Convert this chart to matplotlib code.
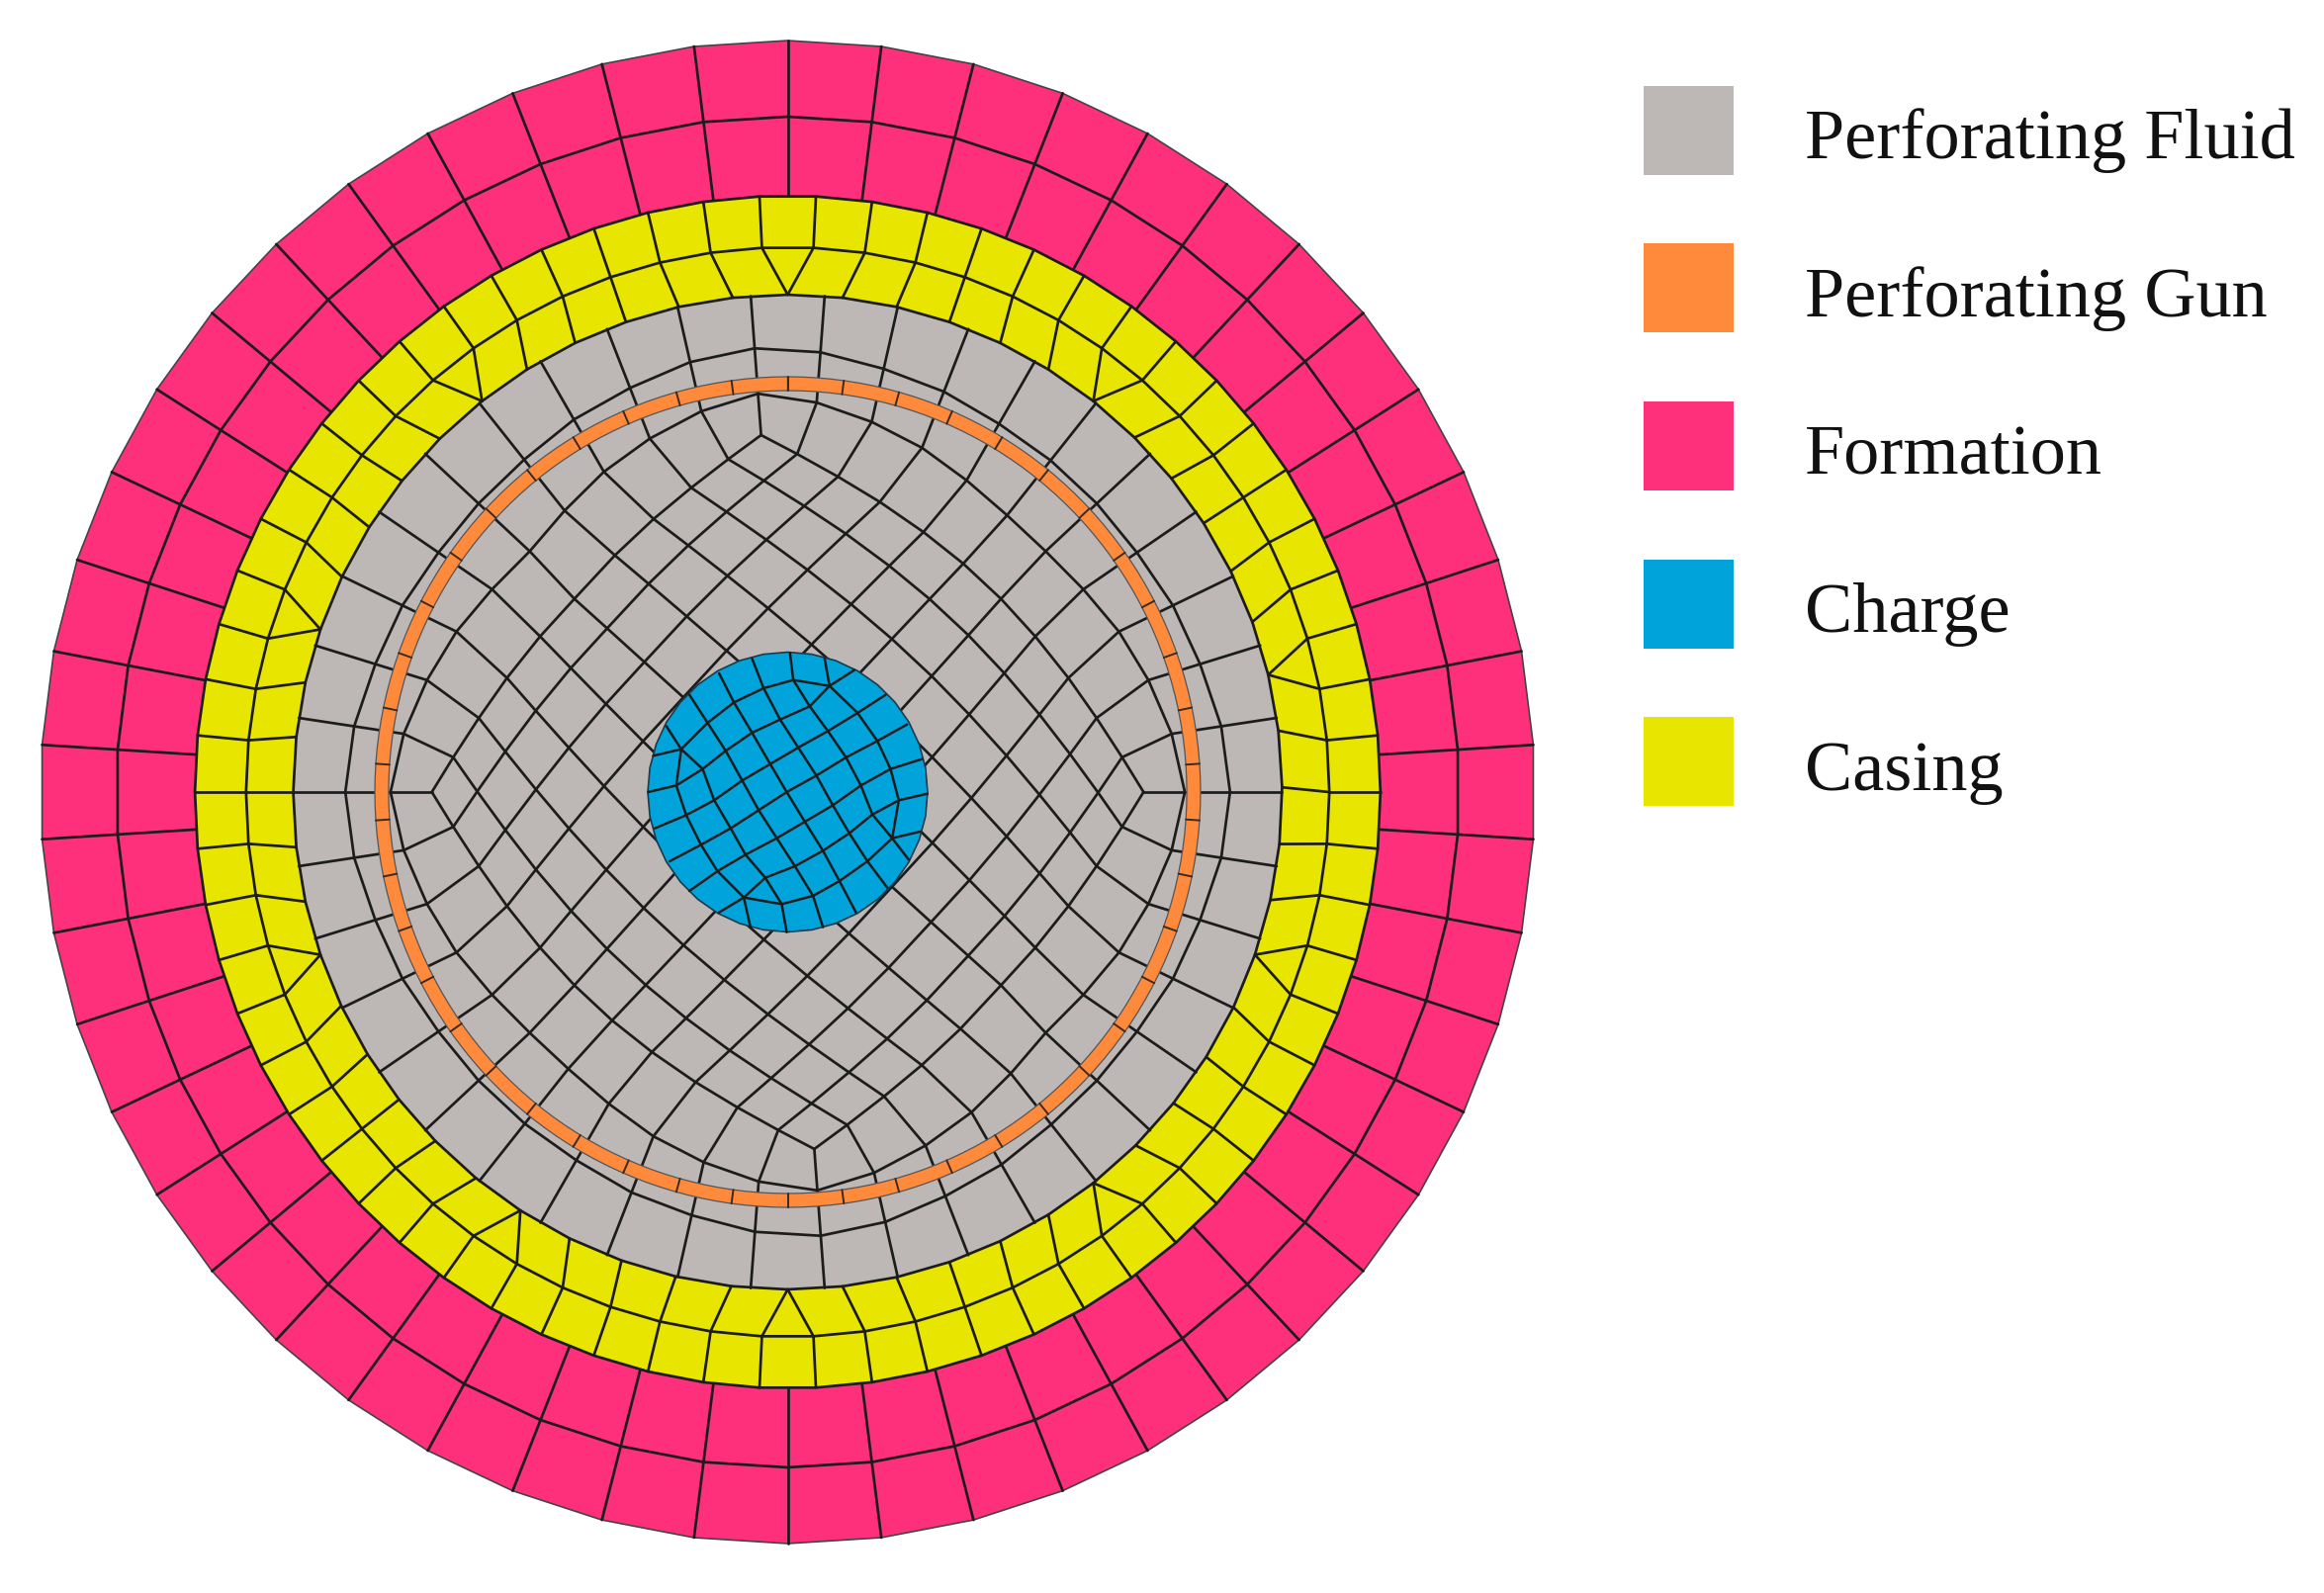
import numpy as np
import matplotlib
matplotlib.use("Agg")
import matplotlib.pyplot as plt
from matplotlib.patches import Polygon, Rectangle

# legend
labels = ["Perforating Fluid", "Perforating Gun", "Formation", "Charge", "Casing"]
FLUID, GUN, FORMATION, CHARGE, CASING = "#BDB8B6", "#FF8A3C", "#FE2F7B", "#00A3DA", "#E8E600"
colors = [FLUID, GUN, FORMATION, CHARGE, CASING]

# mesh radii (px)
formation_r = [760, 683, 603]
casing_r = [603, 551, 503]
gun_r = [420, 406]
charge_r = 141.5

# element counts round each ring
n_formation = 50
n_casing = 66
n_fluid = 42
n_gun = 46

# casing: first of each pair of mid nodes that merge into one inner node
wedge_first = [6, 13, 19, 25, 32, 38, 45, 52, 58, 65]

# fluid mesh: block corners as spoke numbers, and ring radii by spokes away from a corner
corner_spokes = [0, 11, 21, 32, 42]
ring_b = [450, 446, 439, 435, 430, 429]
ring_a = [404, 395, 384, 374, 364, 358]
block_r = [362, 342, 323, 308, 297, 292]
block_ang = [0, 5.9, 13.4, 22, 32, 42]

# charge mesh polylines, node positions from centre in 1/3 px (x right, y down)
charge_lines = [
    [(-408, -110), (-323, -130), (-243, -210), (-163, -272), (-73, -315), (17, -340), (127, -322)],
    [(202, -370), (127, -322), (67, -260), (-23, -220), (-108, -180), (-188, -125), (-258, -70), (-338, -20), (-423, 0)],
    [(297, -295), (212, -240), (122, -185), (32, -135), (-53, -85), (-138, -35), (-223, 25), (-308, 70), (-403, 110)],
    [(362, -205), (272, -155), (177, -105), (87, -50), (-3, 0), (-88, 55), (-173, 110), (-263, 160), (-358, 210)],
    [(407, -100), (312, -70), (222, -20), (137, 40), (52, 90), (-33, 140), (-128, 190), (-213, 240), (-298, 300)],
    [(424, 5), (337, 25), (257, 68), (187, 125), (107, 178), (22, 225), (-68, 260), (-133, 320), (-208, 365)],
    [(402, 120), (317, 140), (242, 210), (157, 270), (77, 315), (-18, 340), (-133, 320)],
    [(-323, -130), (-338, -20), (-308, 70), (-263, 160), (-213, 240), (-133, 320), (-113, 410)],
    [(-368, -200), (-323, -130), (-258, -70), (-223, 25), (-173, 110), (-128, 190), (-68, 260), (-18, 340), (-3, 425)],
    [(-298, -295), (-243, -210), (-188, -125), (-138, -35), (-88, 55), (-33, 140), (22, 225), (77, 315), (107, 410)],
    [(-208, -360), (-163, -272), (-108, -180), (-53, -85), (-3, 0), (52, 90), (107, 178), (157, 270), (207, 365)],
    [(-108, -405), (-73, -315), (-23, -220), (32, -135), (87, -50), (137, 40), (187, 125), (242, 210), (302, 290)],
    [(7, -422), (17, -340), (67, -260), (122, -185), (177, -105), (222, -20), (257, 68), (317, 140), (367, 205)],
    [(112, -405), (127, -322), (212, -240), (272, -155), (312, -70), (337, 25), (317, 140)],
]

CX, CY = 796.5, 801
X_SCALE = 0.994
LW = 1.95
INK = "#1c1c1c"


def pt(r, deg):
    # degrees clockwise from north, pixel axes
    a = np.radians(deg)
    return np.array([CX + X_SCALE * r * np.sin(a), CY - r * np.cos(a)])


def ring(r, angs):
    return np.array([pt(r, a) for a in angs])


def line(ax, pts, z=3, lw=LW, c=INK):
    pts = np.asarray(pts)
    ax.plot(pts[:, 0], pts[:, 1], color=c, lw=lw, zorder=z, solid_capstyle="round", solid_joinstyle="round")


fig = plt.figure(figsize=(23.5, 16.11), dpi=100)
ax = fig.add_axes([0, 0, 1, 1])
ax.set_xlim(0, 2350)
ax.set_ylim(1611, 0)
ax.axis("off")

# formation
form_ang = np.arange(n_formation) * 360 / n_formation
ax.add_patch(Polygon(ring(formation_r[0], form_ang), fc=FORMATION, ec="#444444", lw=1.2, zorder=1))
line(ax, ring(formation_r[1], np.r_[form_ang, 360]))
for a in form_ang:
    line(ax, [pt(formation_r[0], a), pt(formation_r[2], a)])

# casing
mid_ang = (np.arange(n_casing) + 0.5) * 360 / n_casing
wedges = sorted(wedge_first)
inner_spokes = []   # (mid node, inner angle)
for i, w in enumerate(wedges):
    nxt = wedges[(i + 1) % len(wedges)] + (n_casing if i == len(wedges) - 1 else 0)
    c0 = (w + 1) * 360 / n_casing
    c1 = (nxt + 1) * 360 / n_casing
    free = list(range(w + 2, nxt))
    inner_spokes.append((w, c0))
    inner_spokes.append((w + 1, c0))
    for m, node in enumerate(free):
        inner_spokes.append((node, c0 + (c1 - c0) * (m + 1) / (len(free) + 1)))
inner_ang = sorted({round(a, 4) for _, a in inner_spokes})

ax.add_patch(Polygon(ring(casing_r[0], mid_ang), fc=CASING, ec=INK, lw=LW, zorder=2))
line(ax, ring(casing_r[1], np.r_[mid_ang, mid_ang[0]]), z=4)
for a in mid_ang:
    line(ax, [pt(casing_r[0], a), pt(casing_r[1], a)], z=4)
for node, a in inner_spokes:
    line(ax, [pt(casing_r[1], mid_ang[node % n_casing]), pt(casing_r[2], a)], z=4)

# perforating fluid
ax.add_patch(Polygon(ring(casing_r[2], inner_ang), fc=FLUID, ec=INK, lw=LW, zorder=3))

spoke_ang = -360 / n_fluid / 2 + np.arange(n_fluid) * 360 / n_fluid
nodes_a, nodes_b, nodes_c = [], [], []
for i in range(n_fluid):
    for s, e in zip(corner_spokes[:-1], corner_spokes[1:]):
        if s <= i < e:
            break
    ds, de = i - s, e - i
    d = min(ds, de)
    if ds <= de:
        a_block = spoke_ang[s] + block_ang[d]
    else:
        a_block = spoke_ang[s] + (e - s) * 360 / n_fluid - block_ang[d]
    nodes_b.append(pt(ring_b[d], spoke_ang[i]))
    nodes_a.append(pt(ring_a[d], spoke_ang[i]))
    nodes_c.append(pt(block_r[d], a_block))
    line(ax, [pt(casing_r[2], spoke_ang[i]), nodes_b[-1], nodes_a[-1], nodes_c[-1]], z=4)
nodes_a, nodes_b, nodes_c = map(np.array, (nodes_a, nodes_b, nodes_c))
line(ax, np.vstack([nodes_a, nodes_a[:1]]), z=4)
line(ax, np.vstack([nodes_b, nodes_b[:1]]), z=4)

# inner block, blended from its four edges
n_u, n_v = 11, 10
edge_ne = nodes_c[:12]
edge_es = nodes_c[11:22]
edge_ws = nodes_c[21:33][::-1]
edge_nw = np.vstack([nodes_c[:1], nodes_c[32:][::-1]])
N, E, S, W = nodes_c[0], nodes_c[11], nodes_c[21], nodes_c[32]
grid = np.zeros((n_u + 1, n_v + 1, 2))
for j in range(n_u + 1):
    for k in range(n_v + 1):
        u, v = j / n_u, k / n_v
        grid[j, k] = ((1 - v) * edge_ne[j] + v * edge_ws[j] + (1 - u) * edge_nw[k] + u * edge_es[k]
                      - ((1 - u) * (1 - v) * N + u * (1 - v) * E + (1 - u) * v * W + u * v * S))
for j in range(n_u + 1):
    line(ax, grid[j, :], z=4)
for k in range(n_v + 1):
    line(ax, grid[:, k], z=4)

# gun
gun_ang = np.arange(n_gun) * 360 / n_gun
a_fine = np.linspace(0, 360, 181)
ax.add_patch(Polygon(np.vstack([ring(gun_r[0], a_fine), ring(gun_r[1], a_fine[::-1])]),
                     fc=GUN, ec="#555555", lw=0.9, zorder=5))
for a in gun_ang:
    line(ax, [pt(gun_r[0], a), pt(gun_r[1], a)], z=6, lw=1.4, c="#3a2a20")

# charge
theta = np.linspace(0, 2 * np.pi, 37)
ax.add_patch(Polygon(np.c_[CX + charge_r * np.cos(theta), CY + charge_r * np.sin(theta)],
                     fc=CHARGE, ec="#1c3a4a", lw=1.2, zorder=7))
for pl in charge_lines:
    p = np.array(pl, dtype=float) / 3
    line(ax, np.c_[CX + p[:, 0], CY + p[:, 1]], z=8, lw=1.8)

# legend
box_tops = [87, 246, 406, 566, 725]
baselines = [160, 320, 480, 639, 799]
for name, col, top, base in zip(labels, colors, box_tops, baselines):
    ax.add_patch(Rectangle((1662, top), 91, 90, fc=col, ec="none", zorder=2))
    ax.text(1825, base, name, family="Liberation Serif", fontsize=52, color="#111111",
            ha="left", va="baseline")

fig.savefig("out.png", dpi=100, facecolor="white")
